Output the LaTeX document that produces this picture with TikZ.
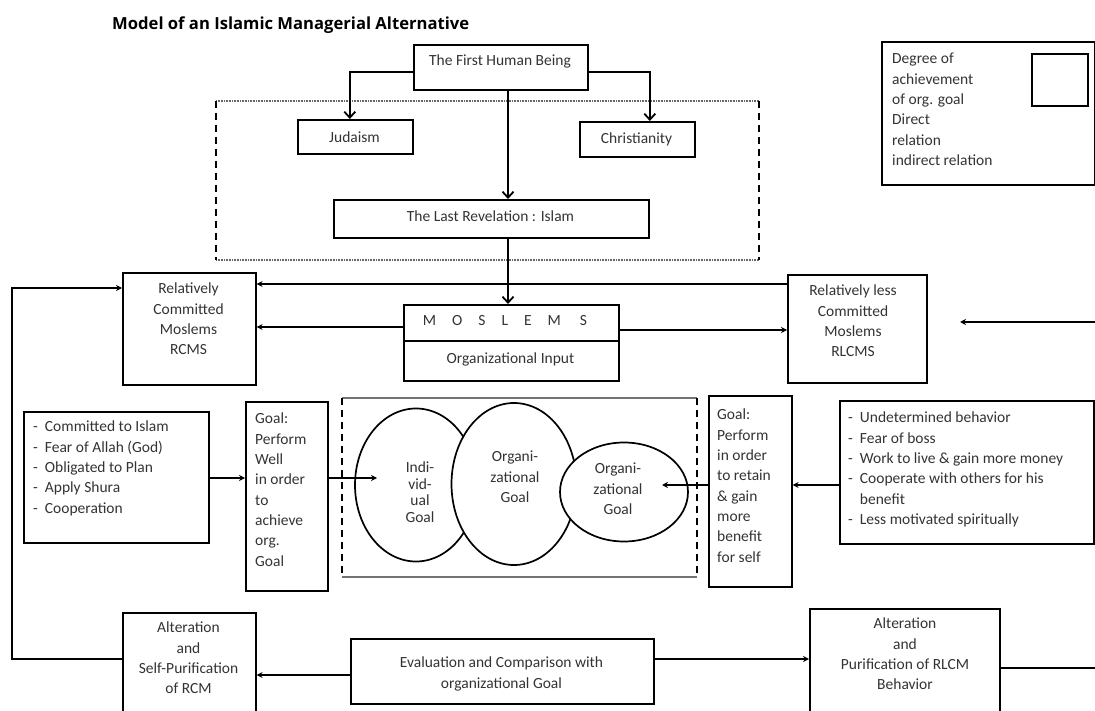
\documentclass[tikz,border=0pt]{standalone}
\usepackage{fontspec}
\setmainfont{Carlito}
\newfontfamily\titlefont{Open Sans}
\usetikzlibrary{arrows.meta}
\newcommand\bodyfont{\fontsize{15.5}{20.3}\selectfont}
\newcommand\tightfont{\fontsize{15.5}{16.5}\selectfont}
\tikzset{
  box/.style={draw, line width=1.6pt, inner sep=0pt, anchor=north west},
  txt/.style={font=\bodyfont, text=black!80, inner sep=0pt, align=center},
  ltxt/.style={font=\bodyfont, text=black!80, inner sep=0pt, align=left, anchor=north west},
  arr/.style={-{Stealth[length=6pt,width=6pt]}, line width=1.9pt},
  bigarr/.style={-{Straight Barb[length=6pt,width=11pt,line width=1.8pt]}, line width=2.2pt},
  plain/.style={line width=2pt},
  frdash/.style={line width=2.2pt, dash pattern=on 7pt off 5pt},
  frdot/.style={line width=1.1pt, black!60, dash pattern=on 1pt off 0.6pt},
  frthin/.style={line width=1.1pt, black!55},
  ell/.style={draw, line width=1.7pt, fill=white, ellipse}
}
\usetikzlibrary{shapes.geometric}
\begin{document}
\begin{tikzpicture}[x=1pt,y=-1pt]
\clip (0,0) rectangle (1095,711);
\useasboundingbox (0,0) rectangle (1095,711);
% title
\node[anchor=west, inner sep=0pt] (title) at (112,25) {\resizebox{357pt}{!}{\titlefont\bfseries Model of an Islamic Managerial Alternative}};
% frames
\draw[frdot] (216,101) -- (759,101);
\draw[frdot] (216,260) -- (759,260);
\draw[frdash] (216,101) -- (216,260);
\draw[frdash] (759,101) -- (759,260);
\draw[frthin] (342,398) -- (697,398);
\draw[frthin] (342,577) -- (697,577);
\draw[frdash] (342,398) -- (342,577);
\draw[frdash] (697,398) -- (697,577);
% top boxes
\node[box, minimum width=174pt, minimum height=45pt] (fhb) at (413,44) {};
\node[txt] (fhbt) at (500,61) {The First Human Being};
\node[box, minimum width=115pt, minimum height=34pt] (jud) at (297,119) {};
\node[txt] (judt) at (354.5,137) {Judaism};
\node[box, minimum width=115pt, minimum height=35pt] (chr) at (579,121) {};
\node[txt] (chrt) at (636.5,139) {Christianity};
\node[box, minimum width=315pt, minimum height=38pt] (lr) at (333,199) {};
\node[txt] (lrt) at (490.5,216) {The Last Revelation : Islam};
% legend
\node[box, minimum width=213pt, minimum height=143pt] (leg) at (881,41) {};
\node[box, minimum width=56pt, minimum height=52pt] (legsq) at (1031,53) {};
\node[ltxt] (legt) at (892,53) {Degree of\\achievement\\of org. goal\\Direct\\relation\\indirect relation};
% moslems
\node[box, minimum width=215pt, minimum height=76pt] (mos) at (403,304) {};
\draw[line width=1.6pt] (mos.west |- 0,341) -- (mos.east |- 0,341);
\node[txt] (most) at (505,321) {M\hspace{16pt}O\hspace{16pt}S\hspace{16pt}L\hspace{16pt}E\hspace{16pt}M\hspace{19pt}S};
\node[txt] (moin) at (510.5,359) {Organizational Input};
\node[box, minimum width=133pt, minimum height=112pt] (rcms) at (122,272) {};
\node[txt, anchor=north] (rcmst) at (188.5,283) {Relatively\\Committed\\Moslems\\RCMS};
\node[box, minimum width=139pt, minimum height=108pt] (rlcms) at (787,274) {};
\node[txt, anchor=north] (rlcmst) at (853,285) {Relatively less\\Committed\\Moslems\\RLCMS};
% middle row
\node[box, minimum width=185pt, minimum height=131pt] (l1) at (23,411) {};
\node[ltxt] (l1t) at (33,421) {- \ Committed to Islam\\- \ Fear of Allah (God)\\- \ Obligated to Plan\\- \ Apply Shura\\- \ Cooperation};
\node[box, minimum width=82pt, minimum height=189pt] (gw) at (245,401) {};
\node[ltxt] (gwt) at (255,413) {Goal:\\Perform\\Well\\in order\\to\\achieve\\org.\\Goal};
\node[box, minimum width=83pt, minimum height=191pt] (gr) at (708,395) {};
\node[ltxt] (grt) at (717,409) {Goal:\\Perform\\in order\\to retain\\\& gain\\more\\benefit\\for self};
\node[box, minimum width=254pt, minimum height=143pt] (l2) at (839,400) {};
\node[ltxt] (l2t) at (848,412) {- \ Undetermined behavior\\- \ Fear of boss\\- \ Work to live \& gain more money\\- \ Cooperate with others for his\\\phantom{- \ }benefit\\- \ Less motivated spiritually};
% ellipses
\node[ell, minimum width=122pt, minimum height=153pt] (e1) at (416,485) {};
\node[ell, minimum width=125pt, minimum height=162pt] (e2) at (514,484) {};
\node[ell, minimum width=128pt, minimum height=99pt] (e3) at (624,492) {};
\node[txt, font=\tightfont] (e1t) at (420,492) {Indi-\\vid-\\ual\\Goal};
\node[txt] (e2t) at (515,477) {Organi-\\zational\\Goal};
\node[txt] (e3t) at (618,489) {Organi-\\zational\\Goal};
% bottom
\node[box, minimum width=133pt, minimum height=110pt] (arcm) at (122,612) {};
\node[txt, anchor=north] (arcmt) at (188.5,622) {Alteration\\and\\Self-Purification\\of RCM};
\node[box, minimum width=303pt, minimum height=65pt] (ev) at (350,638) {};
\node[txt] (evt) at (501.5,674) {Evaluation and Comparison with\\organizational Goal};
\node[box, minimum width=190pt, minimum height=115pt] (arlcm) at (809,608) {};
\node[txt, anchor=north] (arlcmt) at (905,618) {Alteration\\and\\Purification of RLCM\\Behavior};
% coordinates
\coordinate (cx) at (508,0);
\coordinate (ltop) at (12,288);
\coordinate (lbot) at (12,659);
\coordinate (rb) at (1100,668);
\coordinate (rt) at (1100,322);
\coordinate (rtend) at (960,322);
\coordinate (e1in) at (377,478);
\coordinate (e3in) at (662,485);
% connectors
\draw[bigarr] ([yshift=-4.5pt]fhb.west) -| ([xshift=-5.5pt]jud.north);
\draw[bigarr] ([yshift=-4.5pt]fhb.east) -| ([xshift=12.5pt]chr.north);
\draw[bigarr] (fhb.south -| cx) -- (lr.north -| cx);
\draw[bigarr] (lr.south -| cx) -- (mos.north -| cx);
\draw[arr] (rlcms.west |- 0,284) -- (rcms.east |- 0,284);
\draw[arr] (mos.west |- 0,327) -- (rcms.east |- 0,327);
\draw[arr] (mos.east |- 0,330) -- (rlcms.west |- 0,330);
\draw[arr] (rt) -- (rtend);
\draw[arr] (arcm.west |- lbot) -- (lbot) -- (ltop) -- (rcms.west |- ltop);
\draw[plain] (arlcm.east |- rb) -- (rb);
\draw[arr] (l1.east |- 0,478) -- (gw.west |- 0,478);
\draw[arr] (gw.east |- 0,478) -- (e1in);
\draw[arr] (l2.west |- 0,485) -- (gr.east |- 0,485);
\draw[arr] (gr.west |- 0,485) -- (e3in);
\draw[arr] (ev.west |- 0,675) -- (arcm.east |- 0,675);
\draw[arr] (ev.east |- 0,659) -- (arlcm.west |- 0,659);
\end{tikzpicture}
\end{document}
